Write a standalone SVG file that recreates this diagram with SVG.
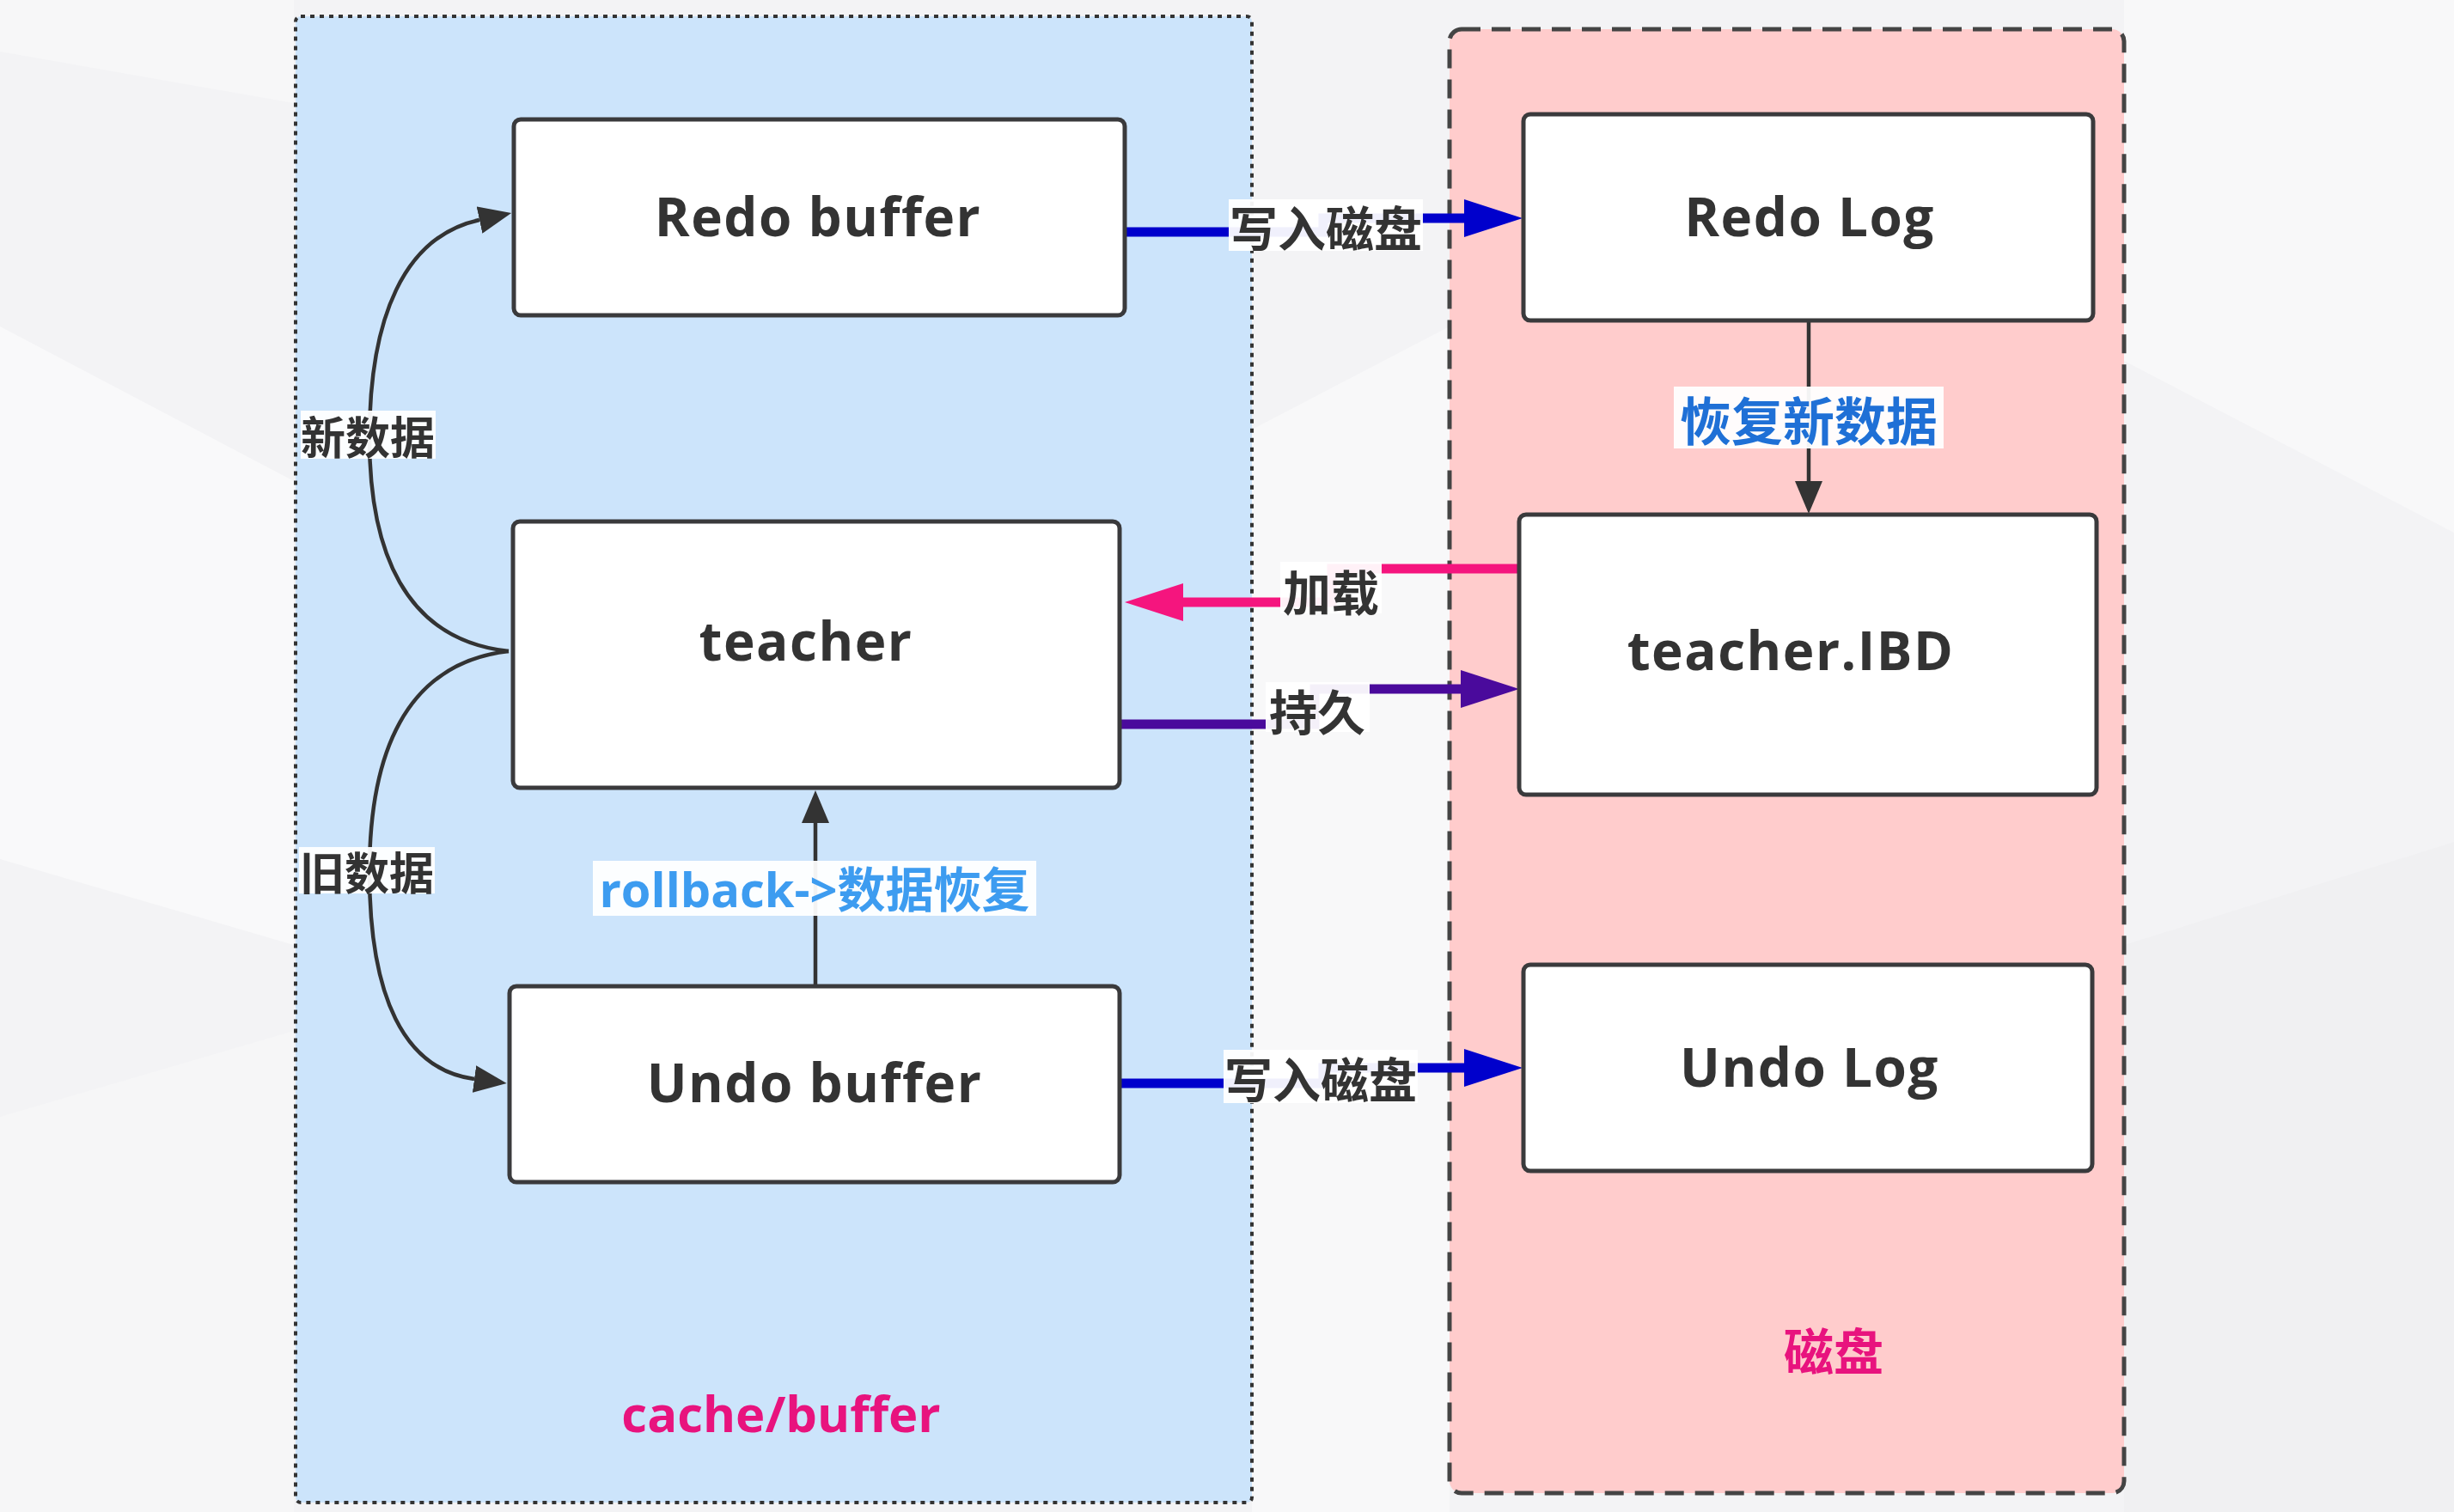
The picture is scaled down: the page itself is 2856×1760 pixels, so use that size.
<svg xmlns="http://www.w3.org/2000/svg" width="2856" height="1760" viewBox="0 0 2856 1760">
<style>
.node rect{fill:#ffffff;stroke:#3a3a3c;stroke-width:5}
.nt{font-family:"Open Sans","Liberation Sans","Noto Sans CJK SC",sans-serif;font-weight:bold;font-size:62px;fill:#333333;text-anchor:middle;letter-spacing:1.5px}
.cj{font-family:"Noto Sans CJK SC","Noto Sans",sans-serif;font-weight:bold;text-anchor:middle;dominant-baseline:central}
.lbg{fill:#ffffff;fill-opacity:0.94}
.thick{fill:none;stroke-width:11}
.thin{fill:none;stroke:#333333;stroke-width:4.5}
</style>
<defs>
<marker id="ab" viewBox="0 0 68 44" refX="0" refY="22" markerWidth="68" markerHeight="44" markerUnits="userSpaceOnUse" orient="auto"><path d="M0,0 L68,22 L0,44 z" fill="#0000cc"/></marker>
<marker id="ap" viewBox="0 0 68 44" refX="0" refY="22" markerWidth="68" markerHeight="44" markerUnits="userSpaceOnUse" orient="auto"><path d="M0,0 L68,22 L0,44 z" fill="#f5157e"/></marker>
<marker id="av" viewBox="0 0 68 44" refX="0" refY="22" markerWidth="68" markerHeight="44" markerUnits="userSpaceOnUse" orient="auto"><path d="M0,0 L68,22 L0,44 z" fill="#4a0a9c"/></marker>
<marker id="ad" viewBox="0 0 38 32" refX="0" refY="16" markerWidth="38" markerHeight="32" markerUnits="userSpaceOnUse" orient="auto"><path d="M0,0 L38,16 L0,32 z" fill="#333333"/></marker>
</defs>

<g id="background">
<rect x="0" y="0" width="2856" height="1760" fill="#f3f3f5"/>
<polygon points="0,0 342,0 342,120 0,60" fill="#f7f7f8"/>
<polygon points="0,380 342,560 342,1100 0,1000" fill="#f9f9fa"/>
<polygon points="0,1300 342,1200 342,1760 0,1760" fill="#f6f6f7"/>
<polygon points="1457,500 1687,380 1687,1760 1457,1760" fill="#f8f8f9"/>
<polygon points="2472,0 2856,0 2856,620 2472,420" fill="#f8f8f9"/>
<polygon points="2472,1100 2856,980 2856,1760 2472,1760" fill="#f0f0f2"/>
</g>

<g id="container-cache">
<rect x="344" y="19" width="1113" height="1730" rx="6" fill="#cce4fb" stroke="#333333" stroke-width="4" stroke-dasharray="5 6"/>
<text x="909" y="1667" font-family="'Open Sans','Liberation Sans',sans-serif" font-weight="bold" font-size="58" fill="#e8137e" text-anchor="middle">cache/buffer</text>
</g>

<g id="container-disk">
<rect x="1687" y="34" width="785" height="1704" rx="14" fill="#ffcccc" stroke="#444444" stroke-width="5" stroke-dasharray="22 13"/>
<text x="2134" y="1570" class="cj" font-size="58" fill="#e8137e">磁盘</text>
</g>

<g id="connectors">
<path class="thick" stroke="#0000cc" d="M1310,270 H1540 V254 H1704" marker-end="url(#ab)"/>
<path class="thick" stroke="#0000cc" d="M1304,1261 H1540 V1243 H1704" marker-end="url(#ab)"/>
<path class="thick" stroke="#f5157e" d="M1767,662 H1550 V701 H1377" marker-end="url(#ap)"/>
<path class="thick" stroke="#4a0a9c" d="M1304,843 H1530 V802 H1700" marker-end="url(#av)"/>
<path class="thin" d="M2105,374 V560" marker-end="url(#ad)"/>
<path class="thin" d="M949,1147 V958" marker-end="url(#ad)"/>
<path class="thin" d="M592,758 C470,745 430,640 430,510 C430,370 470,275 558,256" marker-end="url(#ad)"/>
<path class="thin" d="M592,758 C470,772 430,880 430,1015 C430,1160 470,1245 552,1256" marker-end="url(#ad)"/>

<rect class="lbg" x="1430" y="232" width="226" height="60"/>
<text x="1543" y="262" class="cj" font-size="56" fill="#333333">写入磁盘</text>
<rect class="lbg" x="1424" y="1222" width="226" height="62"/>
<text x="1537" y="1253" class="cj" font-size="56" fill="#333333">写入磁盘</text>
<rect class="lbg" x="1490" y="654" width="118" height="60"/>
<text x="1549" y="686" class="cj" font-size="56" fill="#333333">加载</text>
<rect class="lbg" x="1473" y="794" width="121" height="58"/>
<text x="1533" y="825" class="cj" font-size="56" fill="#333333">持久</text>
<rect class="lbg" x="1948" y="450" width="314" height="72"/>
<text x="2105" y="486" class="cj" font-size="60" fill="#1f70d6">恢复新数据</text>
<rect class="lbg" x="690" y="1002" width="516" height="64"/>
<text x="948" y="1034" font-family="'Open Sans','Noto Sans CJK SC',sans-serif" font-weight="bold" font-size="56" fill="#3d9cf0" text-anchor="middle" dominant-baseline="central">rollback-&gt;数据恢复</text>
<rect class="lbg" x="350" y="478" width="157" height="56"/>
<text x="428" y="506" class="cj" font-size="52" fill="#333333">新数据</text>
<rect class="lbg" x="348" y="986" width="158" height="54"/>
<text x="427" y="1013" class="cj" font-size="52" fill="#333333">旧数据</text>
</g>

<g id="node-redo-buffer" class="node">
<rect x="598" y="139" width="711" height="228" rx="8"/>
<text class="nt" x="952" y="275">Redo buffer</text>
</g>
<g id="node-redo-log" class="node">
<rect x="1773" y="133" width="663" height="240" rx="8"/>
<text class="nt" x="2106" y="275">Redo Log</text>
</g>
<g id="node-teacher" class="node">
<rect x="597" y="607" width="706" height="310" rx="8"/>
<text class="nt" x="938" y="769">teacher</text>
</g>
<g id="node-teacher-ibd" class="node">
<rect x="1768" y="599" width="672" height="326" rx="8"/>
<text class="nt" x="2084" y="780">teacher.IBD</text>
</g>
<g id="node-undo-buffer" class="node">
<rect x="593" y="1148" width="710" height="228" rx="8"/>
<text class="nt" x="948" y="1283">Undo buffer</text>
</g>
<g id="node-undo-log" class="node">
<rect x="1773" y="1123" width="662" height="240" rx="8"/>
<text class="nt" x="2106" y="1265">Undo Log</text>
</g>
</svg>
